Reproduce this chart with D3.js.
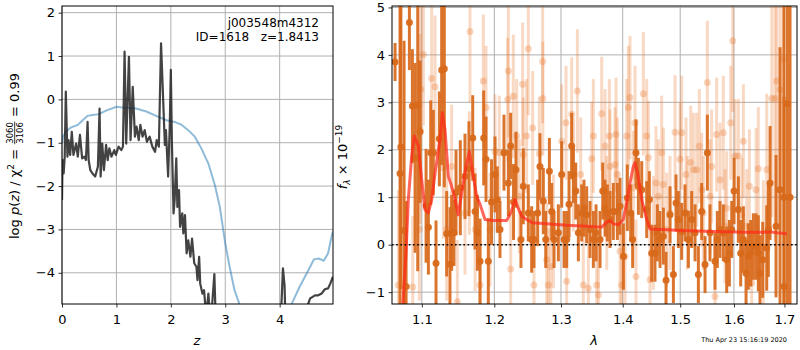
<!DOCTYPE html>
<html><head><meta charset="utf-8">
<script src="https://cdn.jsdelivr.net/npm/d3@7"></script>
<style>body{margin:0;background:#fff} svg{font-family:"DejaVu Sans",sans-serif}</style>
</head><body><svg id="c" width="800" height="350"></svg>
<script>
// ---------- DATA ----------
const zTicks = [0,1,2,3,4];
const logpTicks = [-4,-3,-2,-1,0,1,2];
const lamTicks = [1.1,1.2,1.3,1.4,1.5,1.6,1.7];
const fluxTicks = [-1,0,1,2,3,4,5];

// log p(z) curve [z, log p]
const pzCurve = [[0.00,-2.32],[0.01,-1.40],[0.03,-1.71],[0.05,-1.32],[0.07,0.18],[0.10,-1.32],[0.12,-0.94],[0.15,-1.28],[0.18,-0.75],[0.21,-1.28],[0.26,-1.02],[0.29,-1.32],[0.33,-0.82],[0.37,-1.36],[0.41,-1.32],[0.44,-1.40],[0.47,-0.52],[0.49,-1.40],[0.52,-1.63],[0.56,-1.71],[0.61,-1.78],[0.66,-1.55],[0.69,-0.21],[0.71,-1.78],[0.74,-1.02],[0.77,-1.63],[0.81,-1.05],[0.84,-1.40],[0.87,-1.13],[0.91,-1.32],[0.96,-1.17],[0.99,-1.28],[1.04,-1.09],[1.09,-1.17],[1.12,-1.09],[1.15,1.10],[1.18,-1.02],[1.23,0.98],[1.26,-0.94],[1.30,0.29],[1.34,-0.86],[1.37,-0.63],[1.41,-0.94],[1.44,-0.59],[1.48,-0.86],[1.52,-0.71],[1.56,-0.98],[1.61,-0.86],[1.66,-1.09],[1.71,-1.21],[1.74,-0.94],[1.78,-1.09],[1.82,1.29],[1.85,0.29],[1.89,-1.05],[1.91,-0.71],[1.95,-1.78],[1.98,-0.63],[2.00,0.68],[2.02,-1.02],[2.05,-2.63],[2.07,-2.32],[2.10,-1.36],[2.12,-2.48],[2.15,-2.09],[2.17,-2.94],[2.21,-2.63],[2.23,-3.09],[2.26,-2.67],[2.29,-3.55],[2.32,-3.25],[2.36,-3.63],[2.39,-3.21],[2.43,-3.78],[2.47,-3.86],[2.49,-4.17],[2.52,-3.63],[2.54,-4.25],[2.58,-4.48],[2.61,-4.40],[2.65,-5.0],[2.69,-4.48],[2.72,-5.0],[2.76,-4.72],[2.80,-4.03],[2.83,-5.3],[2.90,-6.0],[3.50,-6.5],[4.00,-6.0],[4.03,-4.8],[4.06,-3.90],[4.09,-4.3],[4.11,-5.3],[4.30,-6.0],[4.50,-4.8],[4.56,-4.59],[4.65,-4.52],[4.71,-4.52],[4.77,-4.48],[4.83,-4.38],[4.89,-4.36],[4.93,-4.25],[4.98,-4.09]];

// scaled chi2 curve [z, value]
const chiCurve = [[0.00,-1.00],[0.02,-0.85],[0.07,-0.75],[0.16,-0.65],[0.29,-0.59],[0.38,-0.48],[0.47,-0.38],[0.56,-0.36],[0.68,-0.34],[0.81,-0.26],[1.00,-0.17],[1.12,-0.19],[1.36,-0.21],[1.55,-0.28],[1.73,-0.38],[1.92,-0.48],[2.07,-0.52],[2.19,-0.58],[2.32,-0.71],[2.44,-0.86],[2.56,-1.13],[2.69,-1.48],[2.81,-1.98],[2.90,-2.48],[3.00,-3.32],[3.08,-3.86],[3.17,-4.40],[3.26,-4.72],[3.40,-5.3],[3.70,-6.0],[4.10,-5.3],[4.22,-4.72],[4.36,-4.34],[4.51,-3.98],[4.63,-3.69],[4.72,-3.67],[4.81,-3.72],[4.89,-3.55],[4.96,-3.13],[4.98,-3.05]];

// spectrum points [lambda, flux, err] (dark)
const darkPoints = [[1.0652,3.85,0.4],[1.0716,1.5,4],[1.0727,2.06,3.0],[1.0768,0.3,4],[1.0794,-0.88,1.8],[1.0837,4.68,1.0],[1.0876,2.92,1.2],[1.0911,1.83,2.0],[1.0946,2.94,3.5],[1.0977,2.38,1.5],[1.1056,0.82,1.2],[1.1087,0.37,1.0],[1.1118,1.94,1.1],[1.1153,1.94,0.9],[1.1189,-0.39,0.9],[1.1234,2.23,1.0],[1.1265,3.68,2.0],[1.1301,3.71,2.5],[1.1333,0.23,0.9],[1.1378,-0.41,1.2],[1.1401,0.25,0.8],[1.1433,0.25,0.7],[1.1461,1.10,0.9],[1.1520,1.2,1.0],[1.1585,1.44,0.9],[1.1640,1.6,1.0],[1.1693,2.25,0.9],[1.1726,0.70,0.8],[1.1759,0.25,0.8],[1.1796,-0.35,0.9],[1.1848,2.25,1.0],[1.1881,1.80,0.9],[1.1914,-0.35,0.9],[1.1960,0.9,0.9],[1.2010,1.48,0.8],[1.2043,0.95,0.7],[1.2082,0.32,0.6],[1.2140,1.94,0.8],[1.2204,1.30,0.7],[1.2238,2.08,0.7],[1.2280,0.9,0.8],[1.2316,1.58,0.8],[1.2390,0.11,0.6],[1.2425,1.23,0.8],[1.2500,0.67,0.6],[1.2550,0.11,0.7],[1.2585,0.11,0.6],[1.2641,0.67,0.7],[1.2676,1.65,0.7],[1.2727,0.92,0.7],[1.2764,0.11,0.6],[1.2820,1.55,0.7],[1.2856,0.70,0.6],[1.2892,0.11,0.6],[1.2959,0.25,0.6],[1.3011,1.48,0.7],[1.3048,0.11,0.6],[1.3089,0.11,0.6],[1.3126,0.85,0.7],[1.3168,2.08,0.7],[1.3195,1.48,0.6],[1.3232,1.13,0.6],[1.3274,0.25,0.6],[1.3327,0.67,0.6],[1.3364,0.77,0.6],[1.3407,0.63,0.6],[1.3461,0.32,0.6],[1.3515,0.11,0.6],[1.3559,0.25,0.6],[1.3624,0.11,0.6],[1.3668,1.13,0.6],[1.3706,0.77,0.6],[1.3744,0.67,0.6],[1.3788,0.53,0.6],[1.3843,0.70,0.6],[1.3910,0.70,0.6],[1.3955,0.81,0.6],[1.4011,-0.25,0.7],[1.4078,0.99,0.7],[1.4134,0.67,0.6],[1.4168,0.11,0.6],[1.4225,1.94,0.7],[1.4266,1.23,0.6],[1.4323,1.16,0.6],[1.4409,0.74,0.6],[1.4455,0.95,0.6],[1.4495,-0.18,0.6],[1.4553,-0.18,0.6],[1.4594,0.25,0.6],[1.4641,0.11,0.6],[1.4700,0.18,0.6],[1.4747,-0.75,0.6],[1.4818,0.63,0.6],[1.4878,-0.63,0.6],[1.4925,0.88,0.6],[1.4967,0.53,0.6],[1.5027,0.28,0.6],[1.5087,0.67,0.6],[1.5148,0.11,0.6],[1.5209,0.53,0.6],[1.5270,0.25,0.6],[1.5331,-0.63,0.6],[1.5392,0.70,0.6],[1.5454,-0.42,0.6],[1.5497,1.94,0.8],[1.5546,0.25,0.6],[1.5640,-0.35,0.6],[1.5684,0.11,0.6],[1.5734,0.32,0.6],[1.5797,0.25,0.6],[1.5861,-0.32,0.7],[1.5912,-0.18,0.7],[1.5957,0.32,0.6],[1.6002,1.13,0.7],[1.6085,0.74,0.7],[1.6130,-0.18,0.7],[1.6182,0.11,0.7],[1.6234,-0.60,0.7],[1.6279,-0.25,0.7],[1.6325,-0.18,0.7],[1.6377,-0.04,0.7],[1.6430,-0.04,0.7],[1.6475,-0.18,0.8],[1.6508,-0.60,0.8],[1.6562,-0.32,0.8],[1.6642,-0.07,0.9],[1.6675,0.32,1.0],[1.6709,1.30,1.2],[1.6829,0.39,1.5],[1.6910,1.16,3.0],[1.6990,1.0,5],[1.6992,-0.88,4],[1.7060,2.97,5],[1.7114,1.0,5]];

// spectrum points [lambda, flux, err] (faint)
const faintPoints = [[1.0695,-0.85,2],[1.0880,-0.89,1.5],[1.0968,0.32,1.5],[1.0977,2.44,2],[1.0986,3.27,1.8],[1.1021,4.01,1.5],[1.1131,3.50,1.8],[1.1176,3.33,1.5],[1.1288,1.62,1.5],[1.1333,0.32,1.5],[1.1401,1.65,1.3],[1.1479,-1.20,1.3],[1.1585,0.67,1.3],[1.1646,1.51,1.3],[1.1655,4.49,1.5],[1.1726,0.32,1.3],[1.1796,-0.85,1.3],[1.1843,3.45,1.4],[1.1881,2.89,1.3],[1.1938,0.32,1.2],[1.2010,1.97,1.2],[1.2072,1.94,1.2],[1.2194,3.06,1.3],[1.2204,3.66,1.4],[1.2238,-0.51,1.2],[1.2277,3.13,1.3],[1.2326,2.29,1.2],[1.2365,1.02,1.2],[1.2415,3.38,1.3],[1.2425,1.90,1.2],[1.2475,2.29,1.2],[1.2500,4.13,1.4],[1.2565,2.46,1.2],[1.2585,-0.85,1.2],[1.2666,1.92,1.2],[1.2717,3.86,1.3],[1.2720,3.08,1.2],[1.2779,-0.32,1.2],[1.2805,-0.85,1.2],[1.2841,-0.46,1.2],[1.2882,0.28,1.2],[1.3011,2.18,1.2],[1.3079,2.57,1.2],[1.3089,-0.77,1.2],[1.3168,2.75,1.2],[1.3195,1.48,1.2],[1.3258,3.24,1.3],[1.3311,1.48,1.2],[1.3353,-0.85,1.2],[1.3434,-0.92,1.2],[1.3488,1.81,1.2],[1.3515,2.29,1.2],[1.3570,-0.85,1.2],[1.3597,-1.06,1.2],[1.3651,2.76,1.2],[1.3706,2.08,1.2],[1.3734,0.67,1.2],[1.3777,2.29,1.2],[1.3788,1.65,1.2],[1.3871,1.69,1.2],[1.3888,2.32,1.2],[1.3910,1.48,1.2],[1.3955,-0.14,1.2],[1.3983,-0.85,1.2],[1.4039,-0.25,1.2],[1.4067,2.29,1.2],[1.4095,2.89,1.3],[1.4123,3.10,1.3],[1.4180,1.20,1.2],[1.4208,2.57,1.2],[1.4225,-0.67,1.2],[1.4351,3.18,1.3],[1.4409,2.29,1.2],[1.4437,1.83,1.2],[1.4466,-0.74,1.2],[1.4524,0.25,1.2],[1.4571,1.30,1.2],[1.4612,1.02,1.2],[1.4670,1.94,1.2],[1.4700,1.27,1.2],[1.4759,0.32,1.2],[1.4818,0.67,1.2],[1.4908,2.37,1.2],[1.4997,1.80,1.2],[1.5027,2.36,1.2],[1.5106,1.48,1.2],[1.5130,0.67,1.2],[1.5190,1.73,1.2],[1.5239,1.58,1.2],[1.5300,1.58,1.2],[1.5349,2.08,1.2],[1.5392,1.16,1.2],[1.5423,0.67,1.2],[1.5497,3.42,1.3],[1.5546,1.02,1.2],[1.5577,1.65,1.2],[1.5640,-1.09,1.2],[1.5671,2.32,1.2],[1.5734,1.37,1.2],[1.5797,2.36,1.2],[1.5829,0.39,1.2],[1.5861,0.77,1.2],[1.5938,2.57,1.2],[1.5976,4.30,1.5],[1.6021,1.87,1.2],[1.6085,1.87,1.2],[1.6150,0.63,1.2],[1.6182,2.18,1.2],[1.6247,0.39,1.2],[1.6299,1.23,1.2],[1.6345,-0.81,1.2],[1.6430,1.16,1.3],[1.6475,1.60,1.3],[1.6575,-0.04,1.4],[1.6642,1.58,1.6],[1.6743,3.08,2.5],[1.6809,3.08,3],[1.6843,3.45,3],[1.6910,3.27,3],[1.6977,3.91,3]];

// best-fit model [lambda, flux]
const modelCurve = [[1.0751,-1.30],[1.0793,-0.18],[1.0823,0.95],[1.0867,1.87],[1.0901,2.29],[1.0954,2.08],[1.0998,1.37],[1.1042,0.74],[1.1086,0.67],[1.1131,0.95],[1.1176,1.51],[1.1243,2.22],[1.1274,2.78],[1.1310,2.43],[1.1356,1.44],[1.1401,1.23],[1.1447,0.95],[1.1492,0.63],[1.1539,1.09],[1.1599,1.65],[1.1645,1.97],[1.1693,1.51],[1.1749,1.02],[1.1796,0.85],[1.1867,0.53],[1.1986,0.51],[1.2180,0.51],[1.2239,0.67],[1.2301,0.95],[1.2350,0.77],[1.2401,0.60],[1.2476,0.53],[1.2566,0.46],[1.2779,0.44],[1.3090,0.41],[1.3408,0.39],[1.3651,0.37],[1.3734,0.47],[1.3788,0.51],[1.3843,0.44],[1.3927,0.42],[1.4010,0.53],[1.4066,0.88],[1.4123,1.30],[1.4179,1.65],[1.4208,1.73],[1.4253,1.51],[1.4323,0.95],[1.4409,0.53],[1.4466,0.33],[1.4700,0.32],[1.4997,0.30],[1.5609,0.28],[1.6247,0.26],[1.6573,0.26],[1.6709,0.27],[1.6843,0.25],[1.7046,0.23]];

// ---------- DRAW ----------
const svg = d3.select("#c");
const minus = d => (d < 0 ? "\u2212" + Math.abs(d) : String(d));
const GRID = "#b0b0b0";

const defs = svg.append("defs");
defs.append("clipPath").attr("id","clipL").append("rect").attr("x",62).attr("y",6).attr("width",271).attr("height",298);
defs.append("clipPath").attr("id","clipR").append("rect").attr("x",392).attr("y",6).attr("width",405).attr("height",298);

// ---- Left panel ----
const L = {x0:62, x1:333, y0:6, y1:304};
const xz = d3.scaleLinear().domain([0,4.98]).range([L.x0,L.x1]);
const yp = d3.scaleLinear().domain([-4.72,2.154]).range([L.y1,L.y0]);

const gL = svg.append("g");
gL.selectAll(".gx").data(zTicks).join("line").attr("x1",d=>xz(d)).attr("x2",d=>xz(d)).attr("y1",L.y0).attr("y2",L.y1).attr("stroke",GRID).attr("stroke-width",1);
gL.selectAll(".gy").data(logpTicks).join("line").attr("y1",d=>yp(d)).attr("y2",d=>yp(d)).attr("x1",L.x0).attr("x2",L.x1).attr("stroke",GRID).attr("stroke-width",1);

const lineL = d3.line().x(d=>xz(d[0])).y(d=>yp(d[1]));
const cL = gL.append("g").attr("clip-path","url(#clipL)");
cL.append("path").datum(chiCurve).attr("d",lineL).attr("fill","none").attr("stroke","#1f77b4").attr("stroke-opacity",0.5).attr("stroke-width",2);
cL.append("path").datum(pzCurve).attr("d",lineL).attr("fill","none").attr("stroke","#222").attr("stroke-opacity",0.85).attr("stroke-width",2.2).attr("stroke-linejoin","round");

gL.append("g").attr("transform",`translate(0,${L.y1})`)
  .call(d3.axisBottom(xz).tickValues(zTicks).tickSize(3.5).tickPadding(7).tickFormat(minus))
  .call(g=>g.select(".domain").remove());
gL.append("g").attr("transform",`translate(${L.x0},0)`)
  .call(d3.axisLeft(yp).tickValues(logpTicks).tickSize(3.5).tickPadding(3.5).tickFormat(minus))
  .call(g=>g.select(".domain").remove());
gL.append("rect").attr("x",L.x0).attr("y",L.y0).attr("width",L.x1-L.x0).attr("height",L.y1-L.y0).attr("fill","none").attr("stroke","#000").attr("stroke-width",1);

gL.append("text").attr("x",319).attr("y",27).attr("text-anchor","end").attr("font-size",12).text("j003548m4312");
gL.append("text").attr("x",319).attr("y",41).attr("text-anchor","end").attr("font-size",12).style("white-space","pre").text("ID=1618   z=1.8413");

gL.append("text").attr("x",197).attr("y",345).attr("text-anchor","middle").attr("font-size",13).attr("font-style","italic").text("z");

// left y label with fraction
(function(){
  const g = svg.append("g").attr("transform","translate(19,156) rotate(-90)");
  const inner = g.append("g");
  const t = inner.append("text").attr("font-size",13).style("white-space","pre");
  t.append("tspan").text("log ");
  t.append("tspan").attr("font-style","italic").text("p");
  t.append("tspan").text("(");
  t.append("tspan").attr("font-style","italic").text("z");
  t.append("tspan").text(") / \u03c7");
  t.append("tspan").attr("font-size",9).attr("dy",-5).text("2");
  t.append("tspan").attr("dy",5).text(" = ");
  const w1 = t.node().getComputedTextLength();
  const num = inner.append("text").attr("font-size",8.5).attr("text-anchor","middle").attr("y",-6.2).text("3060");
  const den = inner.append("text").attr("font-size",8.5).attr("text-anchor","middle").attr("y",3.6).text("3106");
  const fw = Math.max(num.node().getComputedTextLength(), den.node().getComputedTextLength());
  num.attr("x", w1 + fw/2 + 1); den.attr("x", w1 + fw/2 + 1);
  inner.append("line").attr("x1",w1+0.5).attr("x2",w1+fw+1.5).attr("y1",-4.3).attr("y2",-4.3).attr("stroke","#000").attr("stroke-width",0.8);
  const t2 = inner.append("text").attr("font-size",13).attr("x",w1+fw+2).style("white-space","pre").text(" = 0.99");
  const total = w1 + fw + 2 + t2.node().getComputedTextLength();
  inner.attr("transform",`translate(${-total/2},0)`);
})();

// ---- Right panel ----
const R = {x0:392, x1:797, y0:6, y1:304};
const xl = d3.scaleLog().domain([1.0613,1.7258]).range([R.x0,R.x1]);
const yf = d3.scaleLinear().domain([-1.25,5.03]).range([R.y1,R.y0]);

const gR = svg.append("g");
gR.selectAll(".gx").data(lamTicks).join("line").attr("x1",d=>xl(d)).attr("x2",d=>xl(d)).attr("y1",R.y0).attr("y2",R.y1).attr("stroke",GRID).attr("stroke-width",1);
gR.selectAll(".gy").data(fluxTicks).join("line").attr("y1",d=>yf(d)).attr("y2",d=>yf(d)).attr("x1",R.x0).attr("x2",R.x1).attr("stroke",GRID).attr("stroke-width",1);

const cR = gR.append("g").attr("clip-path","url(#clipR)");
const ORG = "#e8772a";
const fg = cR.append("g");
fg.selectAll("line").data(faintPoints).join("line")
  .attr("x1",d=>xl(d[0])).attr("x2",d=>xl(d[0])).attr("y1",d=>yf(d[1]-d[2])).attr("y2",d=>yf(d[1]+d[2]))
  .attr("stroke",ORG).attr("stroke-opacity",0.28).attr("stroke-width",3);
fg.selectAll("circle").data(faintPoints).join("circle")
  .attr("cx",d=>xl(d[0])).attr("cy",d=>yf(d[1])).attr("r",3.5).attr("fill",ORG).attr("fill-opacity",0.3);

const dg = cR.append("g");
dg.selectAll("line").data(darkPoints).join("line")
  .attr("x1",d=>xl(d[0])).attr("x2",d=>xl(d[0])).attr("y1",d=>yf(d[1]-d[2])).attr("y2",d=>yf(d[1]+d[2]))
  .attr("stroke","#d8691b").attr("stroke-opacity",0.92).attr("stroke-width",3);
dg.selectAll("circle").data(darkPoints).join("circle")
  .attr("cx",d=>xl(d[0])).attr("cy",d=>yf(d[1])).attr("r",3.5).attr("fill","#d8691b").attr("fill-opacity",0.95);

const lineR = d3.line().x(d=>xl(d[0])).y(d=>yf(d[1])).curve(d3.curveLinear);
cR.append("path").datum(modelCurve).attr("d",lineR).attr("fill","none").attr("stroke","#ff2a1a").attr("stroke-opacity",0.72).attr("stroke-width",3).attr("stroke-linejoin","round");

cR.append("line").attr("x1",R.x0).attr("x2",R.x1).attr("y1",yf(0)).attr("y2",yf(0)).attr("stroke","#000").attr("stroke-width",1.6).attr("stroke-dasharray","1.6,2.6");

gR.append("g").attr("transform",`translate(0,${R.y1})`)
  .call(d3.axisBottom(xl).tickValues(lamTicks).tickSize(3.5).tickPadding(7).tickFormat(d3.format(".1f")))
  .call(g=>g.select(".domain").remove());
gR.append("g").attr("transform",`translate(${R.x0},0)`)
  .call(d3.axisLeft(yf).tickValues(fluxTicks).tickSize(3.5).tickPadding(3.5).tickFormat(minus))
  .call(g=>g.select(".domain").remove());
gR.append("rect").attr("x",R.x0).attr("y",R.y0).attr("width",R.x1-R.x0).attr("height",R.y1-R.y0).attr("fill","none").attr("stroke","#000").attr("stroke-width",1);

gR.append("text").attr("x",594).attr("y",345).attr("text-anchor","middle").attr("font-size",13).attr("font-style","italic").text("\u03bb");

// right y label
(function(){
  const g = svg.append("g").attr("transform","translate(347,157) rotate(-90)");
  const t = g.append("text").attr("font-size",13).attr("text-anchor","middle").style("white-space","pre");
  t.append("tspan").attr("font-style","italic").text("f");
  t.append("tspan").attr("font-style","italic").attr("font-size",9).attr("dy",3).text("\u03bb");
  t.append("tspan").attr("dy",-3).text(" \u00d7 10");
  t.append("tspan").attr("font-size",9).attr("dy",-5.5).text("\u221219");
})();

svg.selectAll(".tick text").attr("font-size",13).attr("font-family","DejaVu Sans").attr("fill","#000");
svg.selectAll(".tick line").attr("stroke","#000").attr("stroke-width",0.8);

svg.append("text").attr("x",787).attr("y",342).attr("text-anchor","end").attr("font-size",6.5).text("Thu Apr 23 15:16:19 2020");
</script></body></html>
